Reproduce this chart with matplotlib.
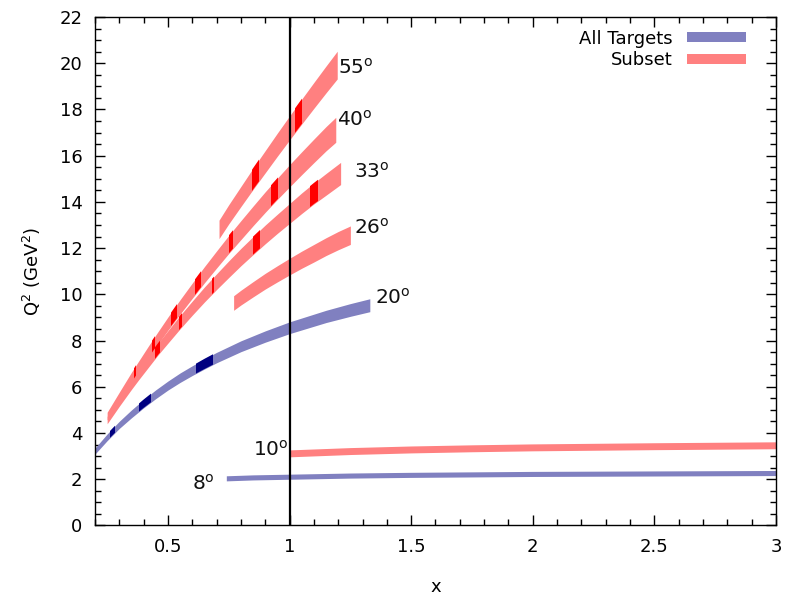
import matplotlib
matplotlib.use("Agg")
import matplotlib.pyplot as plt
from matplotlib.patches import Patch
from matplotlib.ticker import MultipleLocator, FuncFormatter

# band edges: x, lower Q2, upper Q2
x_55 = [0.71, 0.75, 0.80, 0.85, 0.90, 0.95, 1.00, 1.05, 1.10, 1.15, 1.196]
lo_55 = [12.41, 13.05, 13.80, 14.54, 15.26, 15.98, 16.68, 17.37, 18.05, 18.72, 19.32]
hi_55 = [13.21, 13.88, 14.67, 15.46, 16.22, 16.98, 17.72, 18.45, 19.17, 19.88, 20.52]

x_40 = [0.25, 0.30, 0.35, 0.38, 0.42, 0.46, 0.50, 0.55, 0.60, 0.65, 0.70,
        0.75, 0.80, 0.85, 0.90, 0.95, 1.00, 1.05, 1.10, 1.15, 1.19]
lo_40 = [4.57, 5.39, 6.20, 6.66, 7.27, 7.86, 8.45, 9.15, 9.83, 10.50, 11.14,
         11.77, 12.37, 12.97, 13.55, 14.11, 14.65, 15.18, 15.70, 16.21, 16.58]
hi_40 = [4.90, 5.77, 6.63, 7.12, 7.77, 8.40, 9.02, 9.77, 10.49, 11.20, 11.88,
         12.55, 13.19, 13.82, 14.44, 15.03, 15.61, 16.17, 16.72, 17.26, 17.66]

x_33 = [0.25, 0.30, 0.35, 0.38, 0.42, 0.46, 0.50, 0.55, 0.60, 0.65, 0.70,
        0.75, 0.80, 0.85, 0.90, 0.95, 1.00, 1.05, 1.10, 1.15, 1.21]
lo_33 = [4.40, 5.16, 5.89, 6.31, 6.85, 7.39, 7.89, 8.51, 9.10, 9.67, 10.21,
         10.73, 11.24, 11.72, 12.19, 12.64, 13.07, 13.50, 13.91, 14.29, 14.75]
hi_33 = [4.72, 5.53, 6.31, 6.75, 7.33, 7.90, 8.43, 9.09, 9.71, 10.32, 10.89,
         11.45, 11.99, 12.50, 13.00, 13.47, 13.93, 14.39, 14.82, 15.23, 15.71]

x_26 = [0.77, 0.80, 0.85, 0.90, 0.95, 1.00, 1.05, 1.10, 1.15, 1.20, 1.25]
lo_26 = [9.31, 9.54, 9.89, 10.23, 10.54, 10.84, 11.13, 11.40, 11.68, 11.93, 12.16]
hi_26 = [9.94, 10.18, 10.55, 10.91, 11.24, 11.56, 11.87, 12.16, 12.45, 12.72, 12.96]

x_20 = [0.20, 0.25, 0.30, 0.35, 0.40, 0.45, 0.50, 0.55, 0.60, 0.65, 0.70,
        0.75, 0.80, 0.90, 1.00, 1.15, 1.25, 1.33]
lo_20 = [3.09, 3.67, 4.20, 4.66, 5.09, 5.49, 5.86, 6.19, 6.49, 6.77, 7.04,
         7.28, 7.52, 7.93, 8.30, 8.78, 9.05, 9.25]
hi_20 = [3.35, 3.96, 4.51, 5.00, 5.45, 5.87, 6.25, 6.60, 6.91, 7.21, 7.49,
         7.74, 7.99, 8.42, 8.81, 9.31, 9.60, 9.81]

x_10 = [1.00, 1.10, 1.25, 1.50, 1.75, 2.00, 2.50, 3.00]
lo_10 = [2.97, 3.01, 3.07, 3.14, 3.19, 3.23, 3.28, 3.32]
hi_10 = [3.27, 3.31, 3.37, 3.44, 3.49, 3.53, 3.58, 3.62]

x_8 = [0.74, 0.85, 1.00, 1.25, 1.50, 2.00, 2.50, 3.00]
lo_8 = [1.93, 1.97, 2.00, 2.05, 2.08, 2.12, 2.14, 2.16]
hi_8 = [2.15, 2.19, 2.22, 2.27, 2.30, 2.34, 2.36, 2.38]

# darker pieces (overlapping settings), x ranges
dark_55 = [(0.846, 0.874), (1.022, 1.050)]
dark_40 = [(0.360, 0.370), (0.435, 0.446), (0.514, 0.537), (0.613, 0.636),
           (0.753, 0.768), (0.925, 0.952)]
dark_33 = [(0.446, 0.469), (0.545, 0.558), (0.680, 0.690), (0.850, 0.877),
           (1.082, 1.118)]
dark_20 = [(0.262, 0.284), (0.383, 0.431), (0.617, 0.687)]

labels = ["55$^{\\rm o}$", "40$^{\\rm o}$", "33$^{\\rm o}$", "26$^{\\rm o}$",
          "20$^{\\rm o}$", "10$^{\\rm o}$", "8$^{\\rm o}$"]
label_x = [1.20, 1.195, 1.265, 1.265, 1.35, 0.995, 0.60]
label_y = [19.8, 17.55, 15.3, 12.9, 9.85, 3.3, 1.8]
label_ha = ["left", "left", "left", "left", "left", "right", "left"]

light_blue = "#8080c0"
dark_blue = "#000080"
light_red = "#ff8080"
dark_red = "#ff0000"

fig = plt.figure(figsize=(7.87, 5.97), dpi=100)
ax = fig.add_axes([0.1207, 0.1198, 0.8653, 0.8517])


def band(x, lo, hi, color, dark_color, darks):
    poly = ax.fill_between(x, lo, hi, color=color, lw=0, zorder=2)
    path = poly.get_paths()[0]
    for a, b in darks:
        span = ax.axvspan(a, b, color=dark_color, lw=0, zorder=2.5)
        span.set_clip_path(path, poly.get_transform())
    return poly


band(x_20, lo_20, hi_20, light_blue, dark_blue, dark_20)
band(x_8, lo_8, hi_8, light_blue, dark_blue, [])
band(x_10, lo_10, hi_10, light_red, dark_red, [])
band(x_26, lo_26, hi_26, light_red, dark_red, [])
band(x_33, lo_33, hi_33, light_red, dark_red, dark_33)
band(x_40, lo_40, hi_40, light_red, dark_red, dark_40)
band(x_55, lo_55, hi_55, light_red, dark_red, dark_55)

ax.axvline(1.0, color="black", lw=1.6, zorder=4)

for t, lx, ly, ha in zip(labels, label_x, label_y, label_ha):
    ax.text(lx, ly, t, fontsize=14.5, ha=ha, va="center", color="#111111")

ax.set_xlim(0.2, 3.0)
ax.set_ylim(0, 22)
ax.xaxis.set_major_locator(MultipleLocator(0.5))
ax.xaxis.set_minor_locator(MultipleLocator(0.1))
ax.yaxis.set_major_locator(MultipleLocator(2))
ax.yaxis.set_minor_locator(MultipleLocator(0.5))
ax.xaxis.set_major_formatter(FuncFormatter(lambda v, p: "%g" % v))
ax.tick_params(which="both", direction="in", top=True, right=True,
               labelsize=13, colors="black", pad=9)
ax.tick_params(which="major", length=7, width=1)
ax.tick_params(which="minor", length=4, width=1)
for s in ax.spines.values():
    s.set_linewidth(1)

ax.set_xlabel("x", fontsize=13, labelpad=16)
ax.set_ylabel("Q$^2$ (GeV$^2$)", fontsize=13, labelpad=12)

handles = [Patch(facecolor=light_blue, edgecolor="none", label="All Targets"),
           Patch(facecolor=light_red, edgecolor="none", label="Subset")]
ax.legend(handles=handles, loc="upper right", frameon=False, fontsize=13,
          markerfirst=False, handlelength=3.3, handleheight=0.5,
          handletextpad=0.8, labelspacing=0.2, borderaxespad=0.3,
          bbox_to_anchor=(0.975, 1.0))

fig.savefig("out.png", dpi=100)
